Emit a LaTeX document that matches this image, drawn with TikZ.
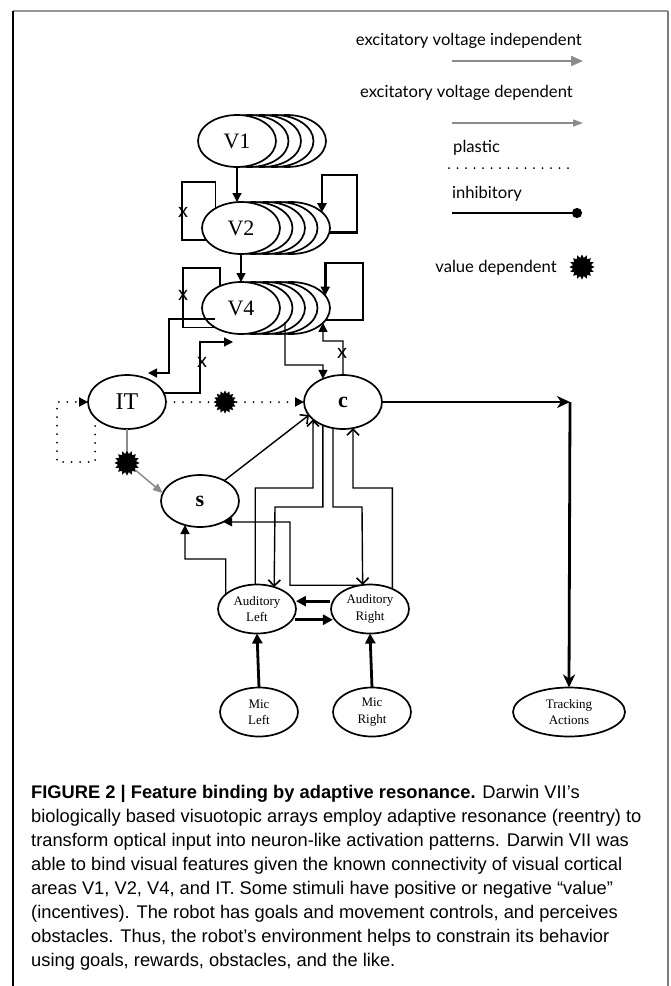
\documentclass[tikz,border=0pt]{standalone}
\usepackage{fontspec}
\setmainfont{Liberation Serif}
\newfontfamily\capfont{Liberation Sans}
\newfontfamily\lgdfont{Lato}
\usetikzlibrary{arrows.meta,shapes.geometric,calc}
\definecolor{lgray}{HTML}{8C8C8C}
\definecolor{fgray}{HTML}{7A7A7A}
\begin{document}
\begin{tikzpicture}[x=1pt,y=-1pt,
  ell/.style={ellipse, draw, line width=1.7pt, fill=white, inner sep=0pt, outer sep=0pt},
  vell/.style={ell, minimum width=78pt, minimum height=52pt, font=\fontsize{22}{26}\selectfont},
  bell/.style={ell, minimum width=78pt, minimum height=54pt, font=\fontsize{24}{28}\selectfont},
  sell/.style={ell, minimum width=78pt, minimum height=49pt, align=center, font=\fontsize{13}{16.5}\selectfont},
  thinl/.style={line width=1.3pt},
  thinarr/.style={line width=1.3pt, -{Triangle[length=9pt,width=9pt]}},
  openarr/.style={line width=1.4pt, -{Straight Barb[length=6pt,width=12pt,line width=1.6pt]}},
  thickarr/.style={line width=2.8pt, -{Triangle[length=10pt,width=10pt]}},
  thickloop/.style={line width=2.8pt, -{Triangle[length=9pt,width=9pt]}},
  stealtharr/.style={line width=2.8pt, -{Stealth[length=13pt,width=12pt,inset=4pt]}},
  dotl/.style={line width=2pt, line cap=round, dash pattern=on 0pt off 8.5pt},
  dotarr/.style={dotl, -{Triangle[length=9pt,width=9pt]}},
  grayl/.style={line width=1.5pt, draw=lgray},
  grayarr/.style={grayl, -{Triangle[length=10pt,width=8pt]}, lgray},
  vstar/.style={star, star points=16, star point ratio=1.35, fill=black, draw=none, inner sep=0pt, outer sep=0pt, minimum size=23pt},
  xmark/.style={inner sep=0pt, font=\fontsize{20}{20}\lgdfont},
  lgd/.style={inner sep=0pt, font=\fontsize{16.6}{20}\lgdfont},
  captxt/.style={inner sep=0pt, font=\fontsize{18.3}{24}\capfont}
]
\useasboundingbox (0,0) rectangle (671,986);
\fill[white] (0,0) rectangle (671,986);
% frame
\draw[fgray!80, line width=1.5pt] (13,11) -- (668,11);
\draw[black, line width=1.5pt] (13,11) -- (13,986);
\draw[fgray, line width=1.3pt] (668,11) -- (668,986);

% legend
\node[lgd, anchor=base east] (lt1) at (582,45) {excitatory voltage independent};
\coordinate (la1) at (452,61); \coordinate (lb1) at (583,61);
\draw[line width=2.2pt, draw=lgray, -{Triangle[length=12pt,width=10pt]}, lgray] (la1) -- (lb1);
\node[lgd, anchor=base east] (lt2) at (573,97) {excitatory voltage dependent};
\coordinate (la2) at (452,123); \coordinate (lb2) at (583,123);
\draw[line width=1.3pt, draw=lgray, -{Triangle[length=10pt,width=7pt]}, lgray] (la2) -- (lb2);
\node[lgd, anchor=base west] (lt3) at (453,152) {plastic};
\coordinate (la3) at (449,168); \coordinate (lb3) at (575,168);
\draw[dotl] (la3) -- (lb3);
\node[lgd, anchor=base west] (lt4) at (452,198) {inhibitory};
\coordinate (la4) at (452,213); \coordinate (lb4) at (582,213);
\draw[line width=2.7pt, -{Circle[length=10pt]}] (la4) -- (lb4);
\node[lgd, anchor=base east] (lt5) at (557,272) {value dependent};
\node[vstar, minimum size=25pt] (lstar) at (582,267) {};

% stacks
\foreach \k in {4,3,2,1}{\node[vell, name=V1b\k] at ({237+12.5*\k},141) {};}
\node[vell] (V1) at (237,141) {V1};
\foreach \k in {4,3,2,1}{\node[vell, name=V2b\k] at ({241+12.5*\k},228) {};}
\node[vell] (V2) at (241,228) {V2};
\foreach \k in {4,3,2,1}{\node[vell, name=V4b\k] at ({241+12.5*\k},308) {};}
\node[vell] (V4) at (241,308) {V4};

% other nodes
\node[bell] (IT) at (127,402) {IT};
\node[bell, font=\fontsize{22}{26}\bfseries] (c) at (343,402) {c};
\node[vell, font=\fontsize{22}{26}\bfseries] (s) at (200,501) {s};
\node[sell] (AL) at (257,609) {Auditory\\Left};
\node[sell] (AR) at (370,609) {Auditory\\Right};
\node[sell, minimum width=78pt] (ML) at (259,712) {Mic\\Left};
\node[sell, minimum width=78pt] (MR) at (372,712) {Mic\\Right};
\node[sell, minimum width=112pt] (TA) at (569,712) {Tracking\\Actions};

% V1 -> V2 -> V4
\draw[thinarr] (V1.south) -- (V1.south |- V2.north);
\draw[thinarr] (V2.south) -- (V4.north);

% V2 loops
\draw[thinl] (V2.143) |- (182,182) |- (V2.199);
\node[xmark] (x1) at (183,212) {x};
\draw[thickloop] (V2b4.353) -| (357,175) -| (V2b4.27);

% V4 loops
\draw[thinl] (V4.134) |- (183,268) |- (V4.216);
\node[xmark] (x2) at (183,295) {x};
\draw[thickloop] (V4b4.341) -| (363,263) -| (V4b4.20);

% V4 <-> IT
\coordinate (ITin) at (148,373);
\draw[thinarr] ($(V4)+(-26,11)$) -| (169,373) -- (ITin);
\coordinate (V4in) at (233,342);
\draw[thinarr] (IT.14) -| (200,342) -- (V4in);
\node[xmark] (x3) at (202,362) {x};

% V4 <-> c
\draw[thinarr] ($(V4)+(44,14)$) |- (323,365) -- (c.131);
\draw[thinarr] (c.north) |- (323,341) -- (V4b4.335);
\node[xmark] (x4) at (342,353) {x};

% IT plastic
\draw[dotarr] (IT.206) |- (57,462) |- (IT.west);
\node[vstar] (vd1) at (225,402) {};
\draw[dotl] (IT.east) -- (vd1);
\draw[dotarr] (vd1) -- (c.west);

% IT -> s (value dependent)
\node[vstar, minimum size=25pt] (vd2) at (127,463) {};
\draw[grayl] (IT.south) -- (vd2);
\draw[grayarr] (vd2) -- (s.168);

% s -> c
\draw[openarr] (s.40) -- (c.201);

% auditory <-> c
\draw[openarr] (AL.94) |- (313,488) -- (c.210);
\draw[openarr] (c.229) |- (275,507) -- (AL.52);
\draw[openarr] (c.249) |- (362,507) -- (AR.107);
\draw[openarr] (AR.42) |- (353,488) -- (c.291);

% auditory -> s
\draw[thinarr] (AL.155) |- (185,559) -- (s.238);
\draw[thinarr] (AR.112) -| (290,522) -- (s.318);

% auditory left <-> right
\draw[thickarr, shorten <=3pt, shorten >=2pt] (AR.168) -- (AL.12);
\draw[thickarr, shorten <=3pt, shorten >=2pt] (AL.343) -- (AR.197);

% mics
\draw[thickarr] (ML.north) -- (AL.south);
\draw[thickarr] (MR.north) -- (AR.south);

% c -> tracking
\coordinate (corner) at (570,402);
\draw[stealtharr] (c.east) -- (corner);
\draw[stealtharr] (corner) -- (TA.north);

% caption
\node[captxt, anchor=base west] (cap1) at (31,798) {\textbf{FIGURE 2 | Feature binding by adaptive resonance.} Darwin VII’s};
\node[captxt, anchor=base west] (cap2) at (31,822) {biologically based visuotopic arrays employ adaptive resonance (reentry) to};
\node[captxt, anchor=base west] (cap3) at (31,846) {transform optical input into neuron-like activation patterns. Darwin VII was};
\node[captxt, anchor=base west] (cap4) at (31,870) {able to bind visual features given the known connectivity of visual cortical};
\node[captxt, anchor=base west] (cap5) at (31,894) {areas V1, V2, V4, and IT. Some stimuli have positive or negative “value”};
\node[captxt, anchor=base west] (cap6) at (31,918) {(incentives). The robot has goals and movement controls, and perceives};
\node[captxt, anchor=base west] (cap7) at (31,942) {obstacles. Thus, the robot’s environment helps to constrain its behavior};
\node[captxt, anchor=base west] (cap8) at (31,966) {using goals, rewards, obstacles, and the like.};
\end{tikzpicture}
\end{document}
